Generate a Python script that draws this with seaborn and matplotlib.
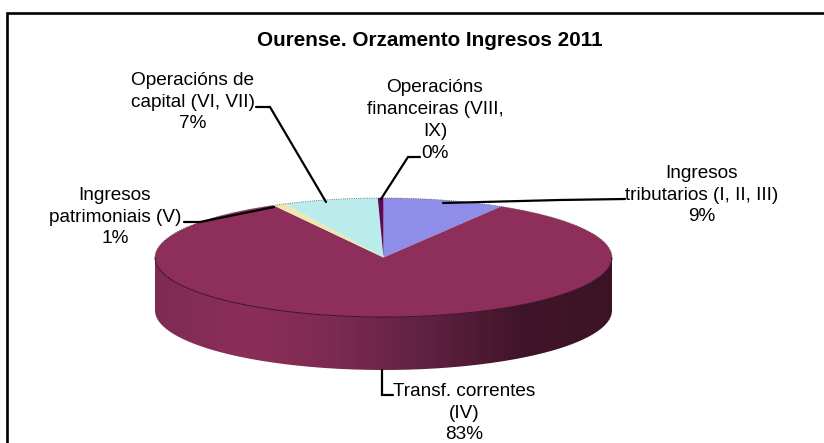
""" Ourense budget income as a flat 3D looking pie """
import matplotlib
matplotlib.use('Agg')
import matplotlib.pyplot as plt
from matplotlib.patches import PathPatch
from matplotlib.path import Path
import numpy as np
import seaborn as sns

labels = ['Ingresos\ntributarios (I, II, III)\n9%', 'Transf. correntes\n(IV)\n83%',
          'Ingresos\npatrimoniais (V)\n1%', 'Operacións de\ncapital (VI, VII)\n7%',
          'Operacións\nfinanceiras (VIII,\nIX)\n0%']
values = [8.6, 83.4, 0.9, 6.7, 0.4]
colours = ['#8e8ee8', '#8e2f5b', '#f0e6b0', '#bbecec', '#5c0a5c']
wall_colours = ['#7e2b52', '#8c2e59', '#7b2a50', '#5f2140', '#411529', '#3c1325']
title = 'Ourense. Orzamento Ingresos 2011'

W, H = 824, 443
CX, CY, RX, RY, DEPTH = 383.5, 257.5, 228.5, 59.5, 53
depth = DEPTH / RY


def wall_path():
    """ Outline of the visible side of the cylinder, in pie units """
    t = np.linspace(np.pi, 2 * np.pi, 200)
    xs = np.concatenate([np.cos(t), np.cos(t[::-1])])
    ys = np.concatenate([np.sin(t) - depth, np.sin(t[::-1])])
    return Path(np.column_stack([xs, ys]))


sns.set_theme(style='white')
plt.rcParams['font.family'] = ['Liberation Sans', 'DejaVu Sans']
fig = plt.figure(figsize=(W / 100, H / 100), dpi=100)

pie_ax = fig.add_axes([(CX - RX) / W, 1 - (CY + RY + DEPTH) / H, 2 * RX / W, (2 * RY + DEPTH) / H])
pie_ax.pie(values, colors=colours, startangle=90, counterclock=False, radius=1,
           wedgeprops={'linewidth': 0})

# side wall with the dark gradient towards the right
cmap = sns.blend_palette(wall_colours, as_cmap=True)
gradient = np.linspace(0, 1, 256).reshape(1, -1)
wall = pie_ax.imshow(gradient, cmap=cmap, aspect='auto', zorder=0,
                     extent=[-1, 1, -1 - depth, 0.2])
patch = PathPatch(wall_path(), transform=pie_ax.transData, fc='none', ec='none')
pie_ax.add_patch(patch)
wall.set_clip_path(patch)

# thin rim, dark on the front edge and dotted on the back
t = np.linspace(np.pi, 2 * np.pi, 200)
pie_ax.plot(np.cos(t), np.sin(t), color='#3a1224', lw=0.7, clip_on=False)
pie_ax.plot(np.cos(t), -np.sin(t), color='#555555', lw=0.6, ls=':', clip_on=False)
pie_ax.set_aspect('auto')
pie_ax.set_xlim(-1, 1)
pie_ax.set_ylim(-1 - depth, 1)
pie_ax.axis('off')

# overlay in pixel units for the frame, texts and leader lines
ax = fig.add_axes([0, 0, 1, 1], facecolor='none')
ax.set_xlim(0, W)
ax.set_ylim(H, 0)
ax.axis('off')
ax.plot([7.5, 7.5, W], [H, 12.5, 12.5], color='black', lw=1.9, solid_joinstyle='miter', clip_on=False)
ax.text(430, 40, title, ha='center', va='center', fontsize=14.9, fontweight='bold', color='black')

label_xy = [(702, 195), (464.5, 413), (115, 217), (193, 102), (435, 120.5)]
for label, (x, y) in zip(labels, label_xy):
    ax.text(x, y, label, ha='center', va='center', fontsize=13.7, color='black', linespacing=1.36)

leader_x = [[443, 560, 625], [382, 382, 393], [274, 200, 184], [256, 270, 326], [381, 408, 420]]
leader_y = [[203, 200, 199], [370, 395, 395], [207, 222, 222], [107, 107, 202], [199, 157, 157]]
for xs, ys in zip(leader_x, leader_y):
    ax.plot(xs, ys, color='black', lw=1.6, solid_joinstyle='miter')

fig.savefig('out.png', dpi=100, facecolor='white')
